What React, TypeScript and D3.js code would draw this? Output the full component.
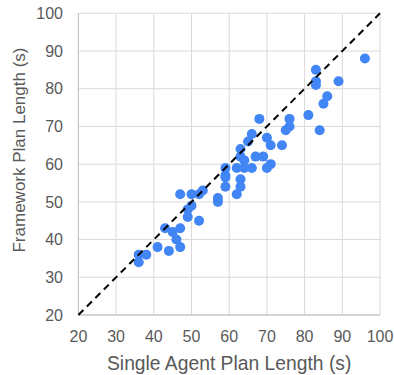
import React from "react";
import * as d3 from "d3";

const singleAgent: number[] = [
  36, 36, 38, 41, 44, 43, 47, 45, 46, 47,
  47, 50, 52, 53, 49, 49, 50, 52,
  57, 57, 59, 59, 59, 59, 62, 63, 63, 62, 64, 64, 66, 63, 63, 65, 66, 68,
  67, 69, 70, 71, 70, 71, 74, 75, 76, 76, 81, 84, 85, 86, 83, 83, 83, 89, 96,
];
const framework: number[] = [
  36, 34, 36, 38, 37, 43, 43, 42, 40, 38,
  52, 52, 52, 53, 46, 48, 49, 45,
  50, 51, 54, 56.5, 57, 59, 52, 54, 56, 59, 59, 61, 59, 62, 64, 66, 68, 72,
  62, 62, 59, 60, 67, 65, 65, 69, 70, 72, 73, 69, 76, 78, 81, 82, 85, 82, 88,
];
const xTicks: number[] = [20, 30, 40, 50, 60, 70, 80, 90, 100];
const yTicks: number[] = [20, 30, 40, 50, 60, 70, 80, 90, 100];
const xTitle = "Single Agent Plan Length (s)";
const yTitle = "Framework Plan Length (s)";

export default function App() {
  const W = 394;
  const H = 375;
  const left = 78.4;
  const right = 380;
  const top = 13.3;
  const bottom = 315;
  const x = d3.scaleLinear().domain([20, 100]).range([left, right]);
  const y = d3.scaleLinear().domain([20, 100]).range([bottom, top]);
  const font = "'Liberation Sans', Arial, sans-serif";
  const diag = d3.line<number>().x((d) => x(d)).y((d) => y(d))([20, 100]) || "";
  return (
    <svg
      width={W}
      height={H}
      style={{ position: "absolute", left: 0, top: 0, background: "#fff" }}
      fontFamily={font}
    >
      {xTicks.map((t) => (
        <line key={"gx" + t} x1={x(t)} x2={x(t)} y1={top} y2={bottom} stroke="#d9d9d9" strokeWidth={1} />
      ))}
      {yTicks.map((t) => (
        <line key={"gy" + t} x1={left} x2={right} y1={y(t)} y2={y(t)} stroke="#d9d9d9" strokeWidth={1} />
      ))}
      <line x1={left} x2={left} y1={top} y2={bottom} stroke="#bdbdbd" strokeWidth={1} />
      <line x1={left} x2={right} y1={bottom} y2={bottom} stroke="#bdbdbd" strokeWidth={1} />
      {yTicks.map((t) => (
        <text key={"ty" + t} x={63} y={y(t)} dy="0.36em" textAnchor="end" fontSize={16} fill="#595959">
          {t}
        </text>
      ))}
      {xTicks.map((t) => (
        <text key={"tx" + t} x={x(t)} y={342} textAnchor="middle" fontSize={16} fill="#595959">
          {t}
        </text>
      ))}
      {singleAgent.map((v, i) => (
        <circle key={"p" + i} cx={x(v)} cy={y(framework[i])} r={5} fill="#4285F4" />
      ))}
      <path d={diag} stroke="#000" strokeWidth={2} strokeDasharray="7,5" fill="none" />
      <text x={(left + right) / 2} y={370} textAnchor="middle" fontSize={19.3} fill="#595959">
        {xTitle}
      </text>
      <text
        transform={`translate(25,150) rotate(-90)`}
        textAnchor="middle"
        fontSize={17}
        fill="#595959"
      >
        {yTitle}
      </text>
    </svg>
  );
}
